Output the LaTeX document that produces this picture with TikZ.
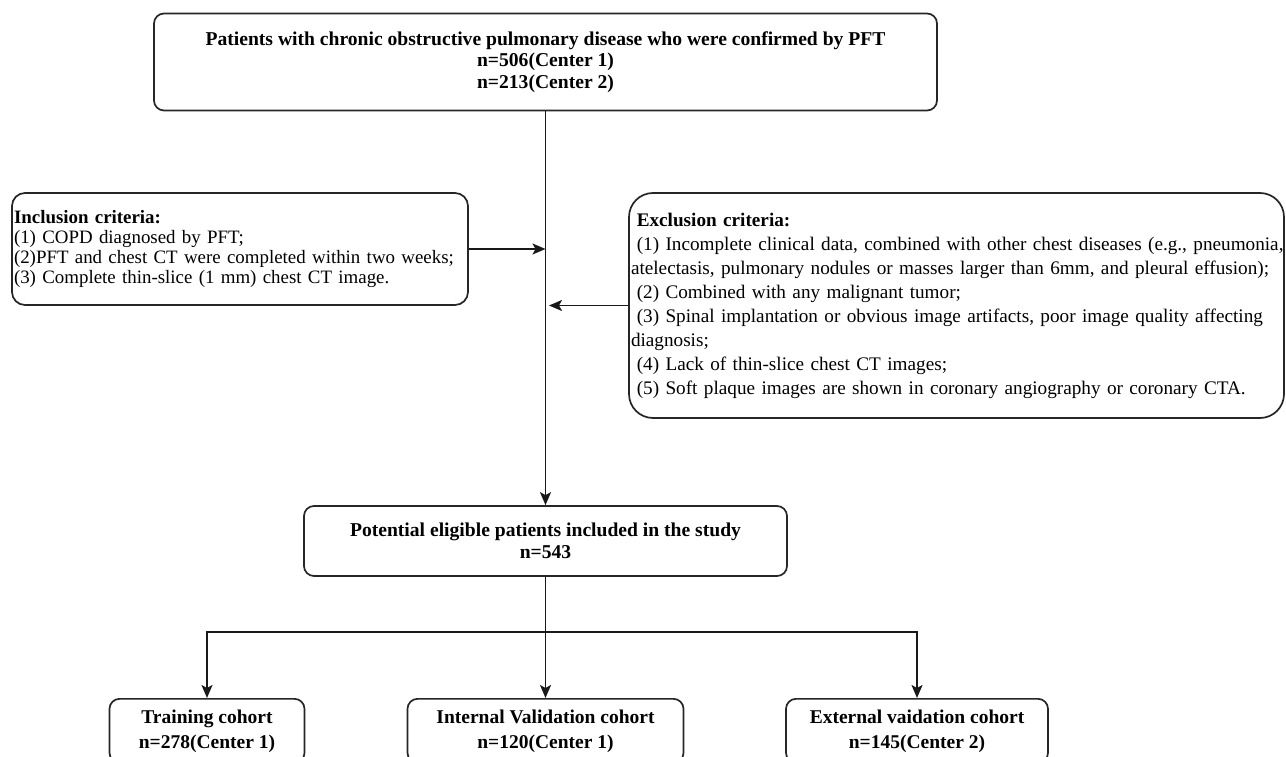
\documentclass[tikz,border=0pt]{standalone}
\usepackage{fontspec}
\setmainfont{Liberation Serif}
\usetikzlibrary{arrows.meta}
\begin{document}
\begin{tikzpicture}[x=1pt,y=-1pt,
  box/.style={draw=black!85, line width=1.7pt, rounded corners=10pt, fill=white, inner xsep=2pt, inner ysep=0pt},
  conn/.style={line width=1.8pt, draw=black!90},
  arr/.style={conn, -{Stealth[length=13pt,width=11pt,inset=3pt]}},
  bigtxt/.style={font=\fontsize{19.6}{21.5}\selectfont},
  cohort/.style={box, font=\fontsize{19.5}{25}\selectfont, align=center, anchor=north, minimum height=64pt},
]
\useasboundingbox (0,0) rectangle (1286,757);
\fill[white] (0,0) rectangle (1286,757);
\begin{scope}
\clip (0,0) rectangle (1286,757);

\node[box, bigtxt, align=center, minimum width=783pt, minimum height=97pt] (top) at (545.5,62)
  {\textbf{Patients with chronic obstructive pulmonary disease who were confirmed by PFT}\\
   \textbf{n=506(Center 1)}\\ \textbf{n=213(Center 2)}};

\node[box, rounded corners=13pt, font=\fontsize{18.9}{20}\selectfont, align=left, text width=452pt,
      minimum width=456pt, minimum height=112pt] (inc) at (240,249)
  {\mbox{\textbf{Inclusion criteria:}}\\
   \mbox{(1) COPD diagnosed by PFT;}\\
   \mbox{(2)PFT and chest CT were completed within two weeks;}\\
   \mbox{(3) Complete thin-slice (1 mm) chest CT image.}};

\node[box, rounded corners=24pt, font=\fontsize{19.2}{24}\selectfont, align=left, text width=651pt,
      minimum width=655pt, minimum height=225pt] (exc) at (956.5,305.5)
  {\mbox{\hspace*{0.3em}\textbf{Exclusion criteria:}}\\
   \mbox{\hspace*{0.3em}(1) Incomplete clinical data, combined with other chest diseases (e.g., pneumonia,}\\
   \mbox{atelectasis, pulmonary nodules or masses larger than 6mm, and pleural effusion);}\\
   \mbox{\hspace*{0.3em}(2) Combined with any malignant tumor;}\\
   \mbox{\hspace*{0.3em}(3) Spinal implantation or obvious image artifacts, poor image quality affecting}\\
   \mbox{diagnosis;}\\
   \mbox{\hspace*{0.3em}(4) Lack of thin-slice chest CT images;}\\
   \mbox{\hspace*{0.3em}(5) Soft plaque images are shown in coronary angiography or coronary CTA.}};

\node[box, bigtxt, align=center, minimum width=483pt, minimum height=70pt] (pot) at (545.5,541)
  {\textbf{Potential eligible patients included in the study}\\ \textbf{n=543}};

\node[cohort, minimum width=195pt] (train) at (207,698)
  {\textbf{Training cohort}\\ \textbf{n=278(Center 1)}};
\node[cohort, minimum width=276pt] (intv) at (545.5,698)
  {\textbf{Internal Validation cohort}\\ \textbf{n=120(Center 1)}};
\node[cohort, minimum width=262pt] (extv) at (917,698)
  {\textbf{External vaidation cohort}\\ \textbf{n=145(Center 2)}};

\coordinate (excend) at (549,305.5);
\coordinate (split) at (545.5,632);

\draw[arr] (top.south) -- (pot.north);
\draw[arr] (inc.east) -- (inc.east -| top.south);
\draw[arr] (exc.west) -- (excend);
\draw[arr] (pot.south) -- (intv.north);
\draw[arr] (split) -| (train.north);
\draw[arr] (split) -| (extv.north);
\end{scope}
\end{tikzpicture}
\end{document}
